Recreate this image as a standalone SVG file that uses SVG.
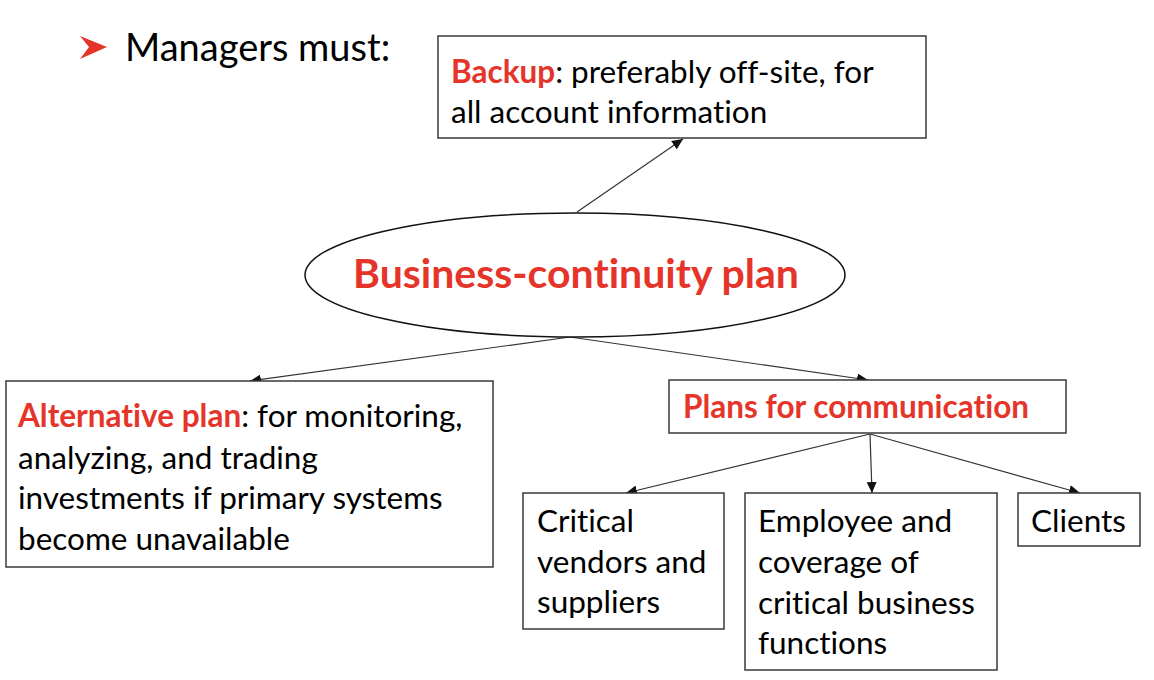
<svg xmlns="http://www.w3.org/2000/svg" width="1154" height="680" viewBox="0 0 1154 680">
<defs>
<marker id="ah" markerUnits="userSpaceOnUse" markerWidth="12" markerHeight="10" refX="11" refY="5" orient="auto">
<path d="M0,0 L11,5 L0,10 z" fill="#111"/>
</marker>
<style>
.box{fill:#fff;stroke:#3a3a3a;stroke-width:1.5}
.t{font-family:Lato,"Open Sans",sans-serif;font-size:31.5px;fill:#000;font-variant-ligatures:none;font-feature-settings:"liga" 0}
.r{font-weight:bold;fill:#e5352a}
.c{stroke:#333;stroke-width:1.2;fill:none;marker-end:url(#ah)}
</style>
</defs>
<rect width="1154" height="680" fill="#fff"/>
<g id="title">
<polygon points="80,36 107,47 80,59 89,47" fill="#e5352a"/>
<text class="t" x="125" y="61" style="font-size:38px">Managers must:</text>
</g>
<g id="connectors">
<line class="c" x1="577" y1="212" x2="683" y2="139"/>
<line class="c" x1="570" y1="337" x2="250" y2="381"/>
<line class="c" x1="570" y1="337" x2="868" y2="380"/>
<line class="c" x1="870" y1="434" x2="626" y2="493"/>
<line class="c" x1="870" y1="434" x2="872" y2="493"/>
<line class="c" x1="870" y1="434" x2="1080" y2="493"/>
</g>
<g id="backup">
<rect class="box" x="438" y="36" width="488" height="102"/>
<text class="t" x="451" y="83"><tspan class="r">Backup</tspan>: preferably off-site, for</text>
<text class="t" x="451" y="123">all account information</text>
</g>
<g id="bcp">
<ellipse cx="575" cy="275" rx="270" ry="62" fill="#fff" stroke="#111" stroke-width="1.5"/>
<text class="t r" x="576" y="288" text-anchor="middle" style="font-size:41px">Business-continuity plan</text>
</g>
<g id="alternative">
<rect class="box" x="6" y="381" width="487" height="186"/>
<text class="t" x="18" y="427"><tspan class="r">Alternative plan</tspan>: for monitoring,</text>
<text class="t" x="18" y="469">analyzing, and trading</text>
<text class="t" x="18" y="509">investments if primary systems</text>
<text class="t" x="18" y="550">become unavailable</text>
</g>
<g id="plans">
<rect class="box" x="669" y="380" width="397" height="53"/>
<text class="t r" x="683" y="418">Plans for communication</text>
</g>
<g id="critical">
<rect class="box" x="523" y="493" width="201" height="136"/>
<text class="t" x="537" y="532">Critical</text>
<text class="t" x="537" y="573">vendors and</text>
<text class="t" x="537" y="613">suppliers</text>
</g>
<g id="employee">
<rect class="box" x="745" y="493" width="252" height="177"/>
<text class="t" x="758" y="532">Employee and</text>
<text class="t" x="758" y="573">coverage of</text>
<text class="t" x="758" y="614">critical business</text>
<text class="t" x="758" y="654">functions</text>
</g>
<g id="clients">
<rect class="box" x="1018" y="493" width="122" height="53"/>
<text class="t" x="1031" y="532">Clients</text>
</g>
</svg>
